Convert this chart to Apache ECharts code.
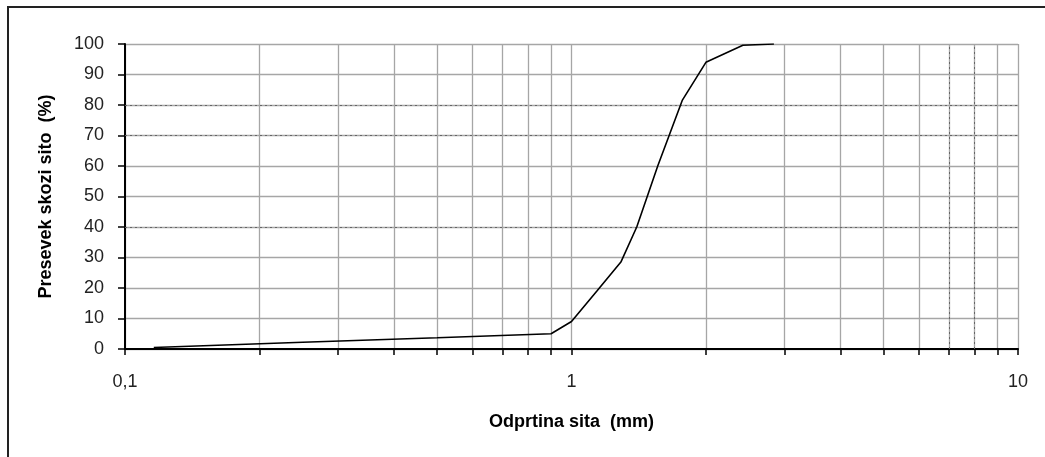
<!DOCTYPE html>
<html>
<head>
<meta charset="utf-8">
<title>Presevek skozi sito</title>
<script src="https://cdn.jsdelivr.net/npm/echarts@6/dist/echarts.min.js"></script>
<style>
  html, body { margin: 0; padding: 0; background: #fff; }
  #chart { width: 1045px; height: 457px; }
</style>
</head>
<body>
<div id="chart"></div>
<script>
// odprtina sita (mm) in presevek (%)
var sieveSizes = [0.116, 0.25, 0.5, 0.9, 1.0, 1.14, 1.29, 1.4, 1.56, 1.77, 2.0, 2.42, 2.84];
var passing = [0.5, 2.2, 3.7, 5, 9, 19, 28.5, 40, 60, 81.5, 94, 99.6, 100];

// mreza na log osi
var xGridValues = [0.1, 0.2, 0.3, 0.4, 0.5, 0.6, 0.7, 0.8, 0.9, 1, 2, 3, 4, 5, 6, 7, 8, 9, 10];
var xLabelValues = [0.1, 1, 10];
// crtkane crte mreze (kot na sliki)
var dottedYLines = [40, 70, 80];
var dottedXLines = [7, 8];

var chartData = [];
for (var i = 0; i < sieveSizes.length; i++) {
  chartData.push([sieveSizes[i], passing[i]]);
}

var dottedLines = [];
for (var j = 0; j < dottedYLines.length; j++) {
  dottedLines.push({ yAxis: dottedYLines[j] });
}
for (var k = 0; k < dottedXLines.length; k++) {
  dottedLines.push({ xAxis: dottedXLines[k] });
}

var myChart = echarts.init(document.getElementById('chart'));
var option = {
  backgroundColor: '#fff',
  animation: false,
  textStyle: { fontFamily: 'Liberation Sans, Arial, sans-serif' },
  graphic: [{
    type: 'rect',
    shape: { x: 8, y: 7, width: 1100, height: 500 },
    style: { fill: 'none', stroke: '#222', lineWidth: 2 },
    silent: true
  }],
  grid: {
    left: 125,
    right: 27,
    top: 44,
    bottom: 108,
    outerBoundsMode: 'none'
  },
  xAxis: {
    type: 'log',
    logBase: 10,
    min: 0.1,
    max: 10,
    name: 'Odprtina sita  (mm)',
    nameLocation: 'middle',
    nameGap: 64,
    nameTextStyle: { color: '#000', fontSize: 18, fontWeight: 'bold' },
    axisLine: { onZero: false, lineStyle: { color: '#000', width: 2 } },
    axisTick: {
      customValues: xGridValues,
      length: 6,
      lineStyle: { color: '#000', width: 1.5 }
    },
    axisLabel: {
      customValues: xLabelValues,
      margin: 24,
      fontSize: 18,
      color: '#222',
      formatter: function (v) {
        return String(v).replace('.', ',');
      }
    },
    splitLine: {
      show: true,
      lineStyle: { color: '#a6a6a6', width: 1.3 }
    }
  },
  yAxis: {
    type: 'value',
    min: 0,
    max: 100,
    interval: 10,
    name: 'Presevek skozi sito  (%)',
    nameLocation: 'middle',
    nameGap: 70,
    nameTextStyle: { color: '#000', fontSize: 18, fontWeight: 'bold' },
    axisLine: { show: true, lineStyle: { color: '#000', width: 2 } },
    axisTick: { show: true, length: 7, lineStyle: { color: '#000', width: 1.5 } },
    axisLabel: { margin: 21, fontSize: 18, color: '#222' },
    splitLine: {
      show: true,
      lineStyle: { color: '#a6a6a6', width: 1.3 }
    }
  },
  series: [{
    type: 'line',
    data: chartData,
    showSymbol: false,
    symbol: 'none',
    lineStyle: { color: '#000', width: 1.6 },
    z: 5,
    markLine: {
      silent: true,
      symbol: 'none',
      label: { show: false },
      lineStyle: { color: '#666', width: 1, type: [2, 3] },
      data: dottedLines,
      z: 3
    }
  }]
};
myChart.setOption(option);
</script>
</body>
</html>
